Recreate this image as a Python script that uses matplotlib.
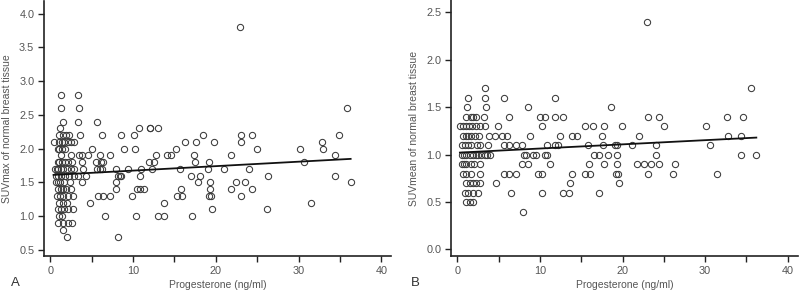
import numpy as np
import matplotlib.pyplot as plt

plt.rcParams['font.family'] = ['Liberation Sans', 'DejaVu Sans']

# panel A: progesterone (ng/ml) vs SUVmax of normal breast tissue
prog_a = [1.3, 3.4, 1.3, 3.5, 1.6, 3.3, 5.7, 1.2, 10.7, 12.0, 12.1, 13.0,
          1.1, 1.5, 1.9, 2.3, 3.6, 6.3, 8.5, 10.1,
          0.4, 1.1, 1.4, 1.7, 2.1, 2.5, 2.9,
          0.9, 1.1, 1.4, 1.8, 5.0, 8.9, 10.3, 15.2,
          1.3, 2.5, 3.5, 3.9, 4.6, 6.0, 7.2, 12.8, 14.1, 14.6,
          0.9, 1.1, 1.4, 1.8, 2.2, 2.6, 3.9, 5.5, 6.1, 6.4, 11.9, 12.5,
          0.6, 0.8, 1.0, 1.3, 1.6, 2.0, 2.5, 2.9, 4.0, 5.6, 6.0, 6.3, 7.9, 9.4, 11.0, 12.3,
          0.7, 1.0, 1.3, 1.8, 2.3, 2.9, 3.4, 4.3, 8.2, 8.4, 8.5, 10.8,
          0.7, 0.9, 1.2, 1.7, 2.4, 3.9, 7.9,
          0.9, 1.3, 1.6, 1.9, 2.5, 8.0, 10.5, 10.9, 11.3,
          0.8, 1.2, 1.6, 2.2, 2.8, 5.8, 6.4, 7.2, 9.9, 15.3,
          1.1, 1.5, 2.0, 4.8, 13.8,
          1.0, 1.3, 1.7, 2.2, 2.8,
          1.1, 1.4, 6.6, 10.4, 13.0, 13.7,
          1.0, 1.6, 2.1, 2.6, 1.5, 2.0, 8.2,
          22.9, 35.8, 16.3, 17.6, 18.5, 19.8, 23.1, 23.1, 24.4, 25.0, 30.2, 32.8,
          33.0, 34.9, 34.4, 17.4, 17.5, 19.2, 21.9, 30.7, 19.1, 21.0, 24.0, 15.7,
          17.0, 18.1, 26.3, 34.4, 17.8, 19.3, 22.5, 23.5, 36.3, 15.8, 19.3, 21.8,
          24.4, 15.9, 19.2, 19.4, 23.1, 31.5, 19.6, 26.2, 17.1]
suvmax = [2.8, 2.8, 2.6, 2.6, 2.4, 2.4, 2.4, 2.3, 2.3, 2.3, 2.3, 2.3,
          2.2, 2.2, 2.2, 2.2, 2.2, 2.2, 2.2, 2.2,
          2.1, 2.1, 2.1, 2.1, 2.1, 2.1, 2.1,
          2.0, 2.0, 2.0, 2.0, 2.0, 2.0, 2.0, 2.0,
          1.9, 1.9, 1.9, 1.9, 1.9, 1.9, 1.9, 1.9, 1.9, 1.9,
          1.8, 1.8, 1.8, 1.8, 1.8, 1.8, 1.8, 1.8, 1.8, 1.8, 1.8, 1.8,
          1.7, 1.7, 1.7, 1.7, 1.7, 1.7, 1.7, 1.7, 1.7, 1.7, 1.7, 1.7, 1.7, 1.7, 1.7, 1.7,
          1.6, 1.6, 1.6, 1.6, 1.6, 1.6, 1.6, 1.6, 1.6, 1.6, 1.6, 1.6,
          1.5, 1.5, 1.5, 1.5, 1.5, 1.5, 1.5,
          1.4, 1.4, 1.4, 1.4, 1.4, 1.4, 1.4, 1.4, 1.4,
          1.3, 1.3, 1.3, 1.3, 1.3, 1.3, 1.3, 1.3, 1.3, 1.3,
          1.2, 1.2, 1.2, 1.2, 1.2,
          1.1, 1.1, 1.1, 1.1, 1.1,
          1.0, 1.0, 1.0, 1.0, 1.0, 1.0,
          0.9, 0.9, 0.9, 0.9, 0.8, 0.7, 0.7,
          3.8, 2.6, 2.1, 2.1, 2.2, 2.1, 2.2, 2.1, 2.2, 2.0, 2.0, 2.1,
          2.0, 2.2, 1.9, 1.9, 1.8, 1.8, 1.9, 1.8, 1.7, 1.7, 1.7, 1.7,
          1.6, 1.6, 1.6, 1.6, 1.5, 1.5, 1.5, 1.5, 1.5, 1.4, 1.4, 1.4,
          1.4, 1.3, 1.3, 1.3, 1.3, 1.2, 1.1, 1.1, 1.0]

# panel B: progesterone (ng/ml) vs SUVmean of normal breast tissue
prog_b = [3.4, 1.3, 3.3, 5.6, 11.8, 1.2, 3.5, 8.5,
          1.0, 1.6, 1.9, 2.2, 3.2, 6.2, 10.0, 10.6, 11.8, 12.8,
          0.3, 0.7, 1.1, 1.4, 1.8, 2.2, 2.7, 3.3, 4.9, 10.2,
          0.7, 1.0, 1.3, 1.7, 2.1, 2.6, 3.8, 4.5, 5.4, 6.0, 8.8, 12.4, 13.9, 14.5,
          0.6, 0.9, 1.3, 1.7, 2.4, 2.7, 3.7, 5.6, 6.2, 7.1, 7.8, 10.8, 11.8, 12.2,
          0.5, 0.8, 1.1, 1.5, 1.9, 2.2, 2.5, 2.9, 3.3, 3.6, 3.9, 8.1, 8.3, 9.2, 9.5,
          10.6, 10.8, 16.6,
          0.5, 0.8, 1.1, 1.6, 2.0, 2.7, 7.8, 8.5, 11.2,
          0.7, 1.0, 1.7, 2.7, 5.7, 6.3, 7.1, 9.8, 10.3, 13.9,
          1.1, 1.5, 1.9, 2.3, 2.7, 4.7, 13.6,
          0.9, 1.3, 1.9, 2.5, 6.5, 10.3, 12.8, 13.5,
          1.1, 1.5, 1.9, 8.0,
          23.0, 35.6, 18.6, 23.1, 24.4, 32.6, 34.6,
          15.5, 16.4, 17.7, 19.9, 25.0, 30.1,
          17.5, 22.0, 32.8, 34.3,
          15.8, 17.6, 19.1, 19.3, 21.1, 24.0, 30.6,
          17.1, 18.2, 19.3, 24.0, 34.3, 36.2,
          15.9, 17.8, 19.3, 21.8, 22.6, 23.5, 24.4, 26.3,
          15.5, 16.0, 19.2, 19.4, 23.1, 26.1, 31.4,
          19.6, 17.2]
suvmean = [1.7, 1.6, 1.6, 1.6, 1.6, 1.5, 1.5, 1.5,
           1.4, 1.4, 1.4, 1.4, 1.4, 1.4, 1.4, 1.4, 1.4, 1.4,
           1.3, 1.3, 1.3, 1.3, 1.3, 1.3, 1.3, 1.3, 1.3, 1.3,
           1.2, 1.2, 1.2, 1.2, 1.2, 1.2, 1.2, 1.2, 1.2, 1.2, 1.2, 1.2, 1.2, 1.2,
           1.1, 1.1, 1.1, 1.1, 1.1, 1.1, 1.1, 1.1, 1.1, 1.1, 1.1, 1.1, 1.1, 1.1,
           1.0, 1.0, 1.0, 1.0, 1.0, 1.0, 1.0, 1.0, 1.0, 1.0, 1.0, 1.0, 1.0, 1.0, 1.0,
           1.0, 1.0, 1.0,
           0.9, 0.9, 0.9, 0.9, 0.9, 0.9, 0.9, 0.9, 0.9,
           0.8, 0.8, 0.8, 0.8, 0.8, 0.8, 0.8, 0.8, 0.8, 0.8,
           0.7, 0.7, 0.7, 0.7, 0.7, 0.7, 0.7,
           0.6, 0.6, 0.6, 0.6, 0.6, 0.6, 0.6, 0.6,
           0.5, 0.5, 0.5, 0.4,
           2.4, 1.7, 1.5, 1.4, 1.4, 1.4, 1.4,
           1.3, 1.3, 1.3, 1.3, 1.3, 1.3,
           1.2, 1.2, 1.2, 1.2,
           1.1, 1.1, 1.1, 1.1, 1.1, 1.1, 1.1,
           1.0, 1.0, 1.0, 1.0, 1.0, 1.0,
           0.9, 0.9, 0.9, 0.9, 0.9, 0.9, 0.9, 0.9,
           0.8, 0.8, 0.8, 0.8, 0.8, 0.8, 0.8,
           0.7, 0.6]

# fitted lines (slope, intercept)
fit_a = (0.0066, 1.61)
fit_b = (0.0044, 1.02)

GREY = '#555555'


def draw_panel(ax, x, y, fit, ylim, yticks, ylabel, letter, letter_x):
    ax.plot(x, y, linestyle='none', marker='o', markersize=4.5,
            markerfacecolor='none', markeredgecolor='#3a3a3a', markeredgewidth=0.75)
    xs = np.array([min(x), max(x)])
    ax.plot(xs, np.polyval(fit, xs), color='#111111', linewidth=1.3)

    ax.set_xlim(-0.75, 41.2)
    ax.set_ylim(*ylim)
    ax.set_xticks([0, 10, 20, 30, 40])
    ax.set_xticks([5, 15, 25, 35], minor=True)
    ax.set_yticks(yticks)
    ax.set_yticklabels([f"{t:.1f}" for t in yticks])
    for s in ['top', 'right']:
        ax.spines[s].set_visible(False)
    for s in ['left', 'bottom']:
        ax.spines[s].set_linewidth(1.2)
        ax.spines[s].set_color('#222222')
    ax.tick_params(which='both', direction='out', length=4, width=1.0,
                   colors='#222222', labelcolor=GREY, labelsize=7.8, pad=3)
    ax.set_xlabel('Progesterone (ng/ml)', fontsize=7.5, color=GREY, labelpad=3)
    ax.set_ylabel(ylabel, fontsize=7.5, color=GREY, labelpad=5)
    ax.text(letter_x, -0.106, letter, transform=ax.transAxes, fontsize=9.5,
            color='#333333', ha='left', va='center')


fig = plt.figure(figsize=(8, 2.91), dpi=100)
ax1 = fig.add_axes([0.055, 0.12, 0.434, 0.877])
ax2 = fig.add_axes([0.564, 0.12, 0.433, 0.88])

draw_panel(ax1, prog_a, suvmax, fit_a, (0.41, 4.19),
           [0.5, 1.0, 1.5, 2.0, 2.5, 3.0, 3.5, 4.0],
           'SUVmax of normal breast tissue', 'A', -0.095)
draw_panel(ax2, prog_b, suvmean, fit_b, (-0.07, 2.63),
           [0.0, 0.5, 1.0, 1.5, 2.0, 2.5],
           'SUVmean of normal breast tissue', 'B', -0.115)

plt.savefig('out.png', dpi=100)
